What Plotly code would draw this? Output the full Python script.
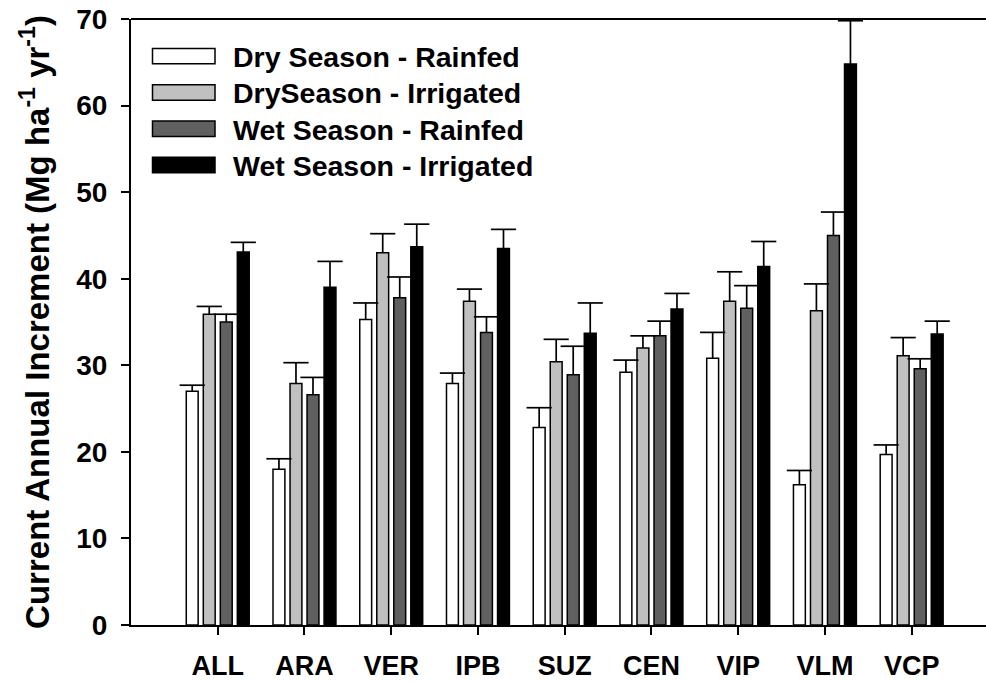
import numpy as np
import plotly.graph_objects as go

categories = ["ALL", "ARA", "VER", "IPB", "SUZ", "CEN", "VIP", "VLM", "VCP"]
series_names = ["Dry Season - Rainfed", "DrySeason - Irrigated",
                "Wet Season - Rainfed", "Wet Season - Irrigated"]

dry_rainfed = [27.0, 18.0, 35.3, 27.9, 22.8, 29.2, 30.8, 16.2, 19.7]
dry_rainfed_err = [0.7, 1.2, 1.9, 1.2, 2.3, 1.4, 3.0, 1.65, 1.1]
dry_irrigated = [35.9, 27.9, 43.0, 37.4, 30.4, 32.0, 37.4, 36.3, 31.1]
dry_irrigated_err = [0.9, 2.4, 2.2, 1.4, 2.6, 1.4, 3.4, 3.1, 2.1]
wet_rainfed = [35.0, 26.6, 37.8, 33.8, 28.9, 33.4, 36.6, 45.0, 29.6]
wet_rainfed_err = [0.9, 2.0, 2.4, 1.8, 3.3, 1.7, 2.6, 2.7, 1.15]
wet_irrigated = [43.1, 39.0, 43.7, 43.5, 33.7, 36.5, 41.4, 64.8, 33.6]
wet_irrigated_err = [1.1, 3.0, 2.6, 2.2, 3.5, 1.8, 2.9, 5.0, 1.5]

y_ticks = [0, 10, 20, 30, 40, 50, 60, 70]

values = [dry_rainfed, dry_irrigated, wet_rainfed, wet_irrigated]
errors = [dry_rainfed_err, dry_irrigated_err, wet_rainfed_err, wet_irrigated_err]
colors = ["#ffffff", "#c0c0c0", "#606060", "#000000"]

W, H = 986, 681
ML, MR, MT, MB = 131, 0, 19, 54
PW, PH = W - ML - MR, H - MT - MB

slot = 0.1962
bar_w = 0.137
idx = np.arange(len(categories))
FONT = "Liberation Sans, Arial, sans-serif"

fig = go.Figure()
for k in range(4):
    xs = idx + (k - 1.5) * slot
    fig.add_trace(go.Bar(
        x=xs, y=values[k], width=bar_w, name=series_names[k],
        marker=dict(color=colors[k], line=dict(color="black", width=1.5)),
        error_y=dict(type="data", symmetric=False, array=errors[k],
                     arrayminus=[0] * len(categories), width=0,
                     thickness=1.7, color="black"),
        showlegend=False,
    ))
    tops = [v + e for v, e in zip(values[k], errors[k])]
    fig.add_trace(go.Scatter(
        x=xs, y=tops, mode="markers",
        marker=dict(symbol="line-ew", size=18,
                    line=dict(color="black", width=1.7)),
        showlegend=False, hoverinfo="skip",
    ))

shapes = [dict(type="line", xref="paper", yref="paper", x0=0, x1=1, y0=1, y1=1,
               line=dict(color="black", width=2))]
annotations = []

def px_x(p):
    return (p - ML) / PW

def px_y(p):
    return (H - MB - p) / PH

row0 = 56.3
row_step = 36.4
for k in range(4):
    cy = row0 + k * row_step
    shapes.append(dict(type="rect", xref="paper", yref="paper",
                       x0=px_x(152.5), x1=px_x(215), y0=px_y(cy + 7.7), y1=px_y(cy - 7.7),
                       fillcolor=colors[k], line=dict(color="black", width=1.5)))
    annotations.append(dict(xref="paper", yref="paper", x=px_x(231), y=px_y(cy + 1),
                            xanchor="left", yanchor="middle", showarrow=False,
                            text=series_names[k],
                            font=dict(family=FONT, size=28.5, weight="bold", color="black")))

fig.update_layout(
    width=W, height=H,
    margin=dict(l=ML, r=MR, t=MT, b=MB, pad=0),
    paper_bgcolor="white", plot_bgcolor="white",
    barmode="overlay",
    shapes=shapes, annotations=annotations,
    showlegend=False,
)
fig.update_xaxes(
    range=[-1, 8.857], tickmode="array", tickvals=list(idx), ticktext=categories,
    showline=True, linecolor="black", linewidth=2, showgrid=False, zeroline=False,
    ticks="outside", ticklen=8, tickwidth=1.5, tickcolor="black",
    tickfont=dict(family=FONT, size=27, weight="bold", color="black"),
    ticklabelstandoff=8,
)
fig.update_yaxes(
    range=[0, 70], tickmode="array", tickvals=y_ticks,
    showline=True, linecolor="black", linewidth=2, showgrid=False, zeroline=False,
    ticks="outside", ticklen=8, tickwidth=1.5, tickcolor="black",
    tickfont=dict(family=FONT, size=28, weight="bold", color="black"),
    ticklabelstandoff=8,
    title=dict(text="Current Annual Increment (Mg ha<sup>-1</sup> yr<sup>-1</sup>)",
               font=dict(family=FONT, size=33, weight="bold", color="black"),
               standoff=17),
)

fig.write_html("out.html")
